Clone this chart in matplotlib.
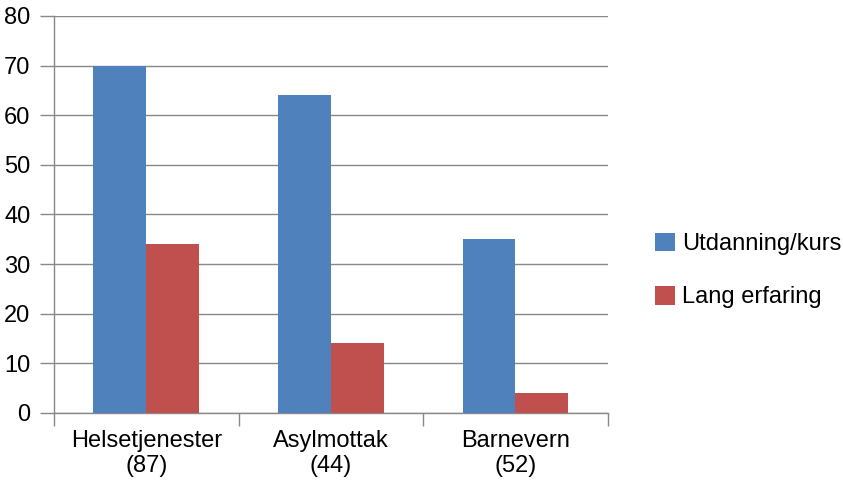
import numpy as np
import matplotlib
matplotlib.use("Agg")
import matplotlib.pyplot as plt

categories = ["Helsetjenester\n(87)", "Asylmottak\n(44)", "Barnevern\n(52)"]
utdanning = [70, 64, 35]
erfaring = [34, 14, 4]
series_names = ["Utdanning/kurs", "Lang erfaring"]
yticks = [0, 10, 20, 30, 40, 50, 60, 70, 80]

plt.rcParams["font.family"] = ["Liberation Sans", "DejaVu Sans"]

fig = plt.figure(figsize=(8.43, 4.83), dpi=100)
ax = fig.add_axes([0.064, 0.145, 0.657, 0.822])

x = np.arange(len(categories))
w = 0.287
b1 = ax.bar(x - w / 2, utdanning, w, color="#4F81BD", label=series_names[0], zorder=3)
b2 = ax.bar(x + w / 2, erfaring, w, color="#C0504D", label=series_names[1], zorder=3)

ax.set_xlim(-0.5, len(categories) - 0.5)
ax.set_ylim(0, 80)
ax.set_yticks(yticks)
ax.yaxis.grid(True, color="#888888", linewidth=1.0, zorder=0)

# category labels in the middle, small tick marks on the boundaries
ax.set_xticks(x)
ax.set_xticklabels(categories, fontsize=17, linespacing=1.2)
ax.tick_params(axis="x", length=0, pad=12)
ax.set_xticks(np.arange(len(categories) + 1) - 0.5, minor=True)
ax.tick_params(axis="x", which="minor", length=9, width=1, color="#888888")
ax.tick_params(axis="y", length=10, width=1, color="#888888", labelsize=17, pad=7)

for s in ["top", "right"]:
    ax.spines[s].set_visible(False)
for s in ["left", "bottom"]:
    ax.spines[s].set_color("#888888")
    ax.spines[s].set_linewidth(1.0)

fig.legend(handles=[b1, b2], loc="center left", bbox_to_anchor=(0.766, 0.44),
           frameon=False, fontsize=17, handlelength=0.85, handleheight=0.85,
           handletextpad=0.3, labelspacing=1.3, borderaxespad=0)

fig.savefig("out.png", dpi=100)
